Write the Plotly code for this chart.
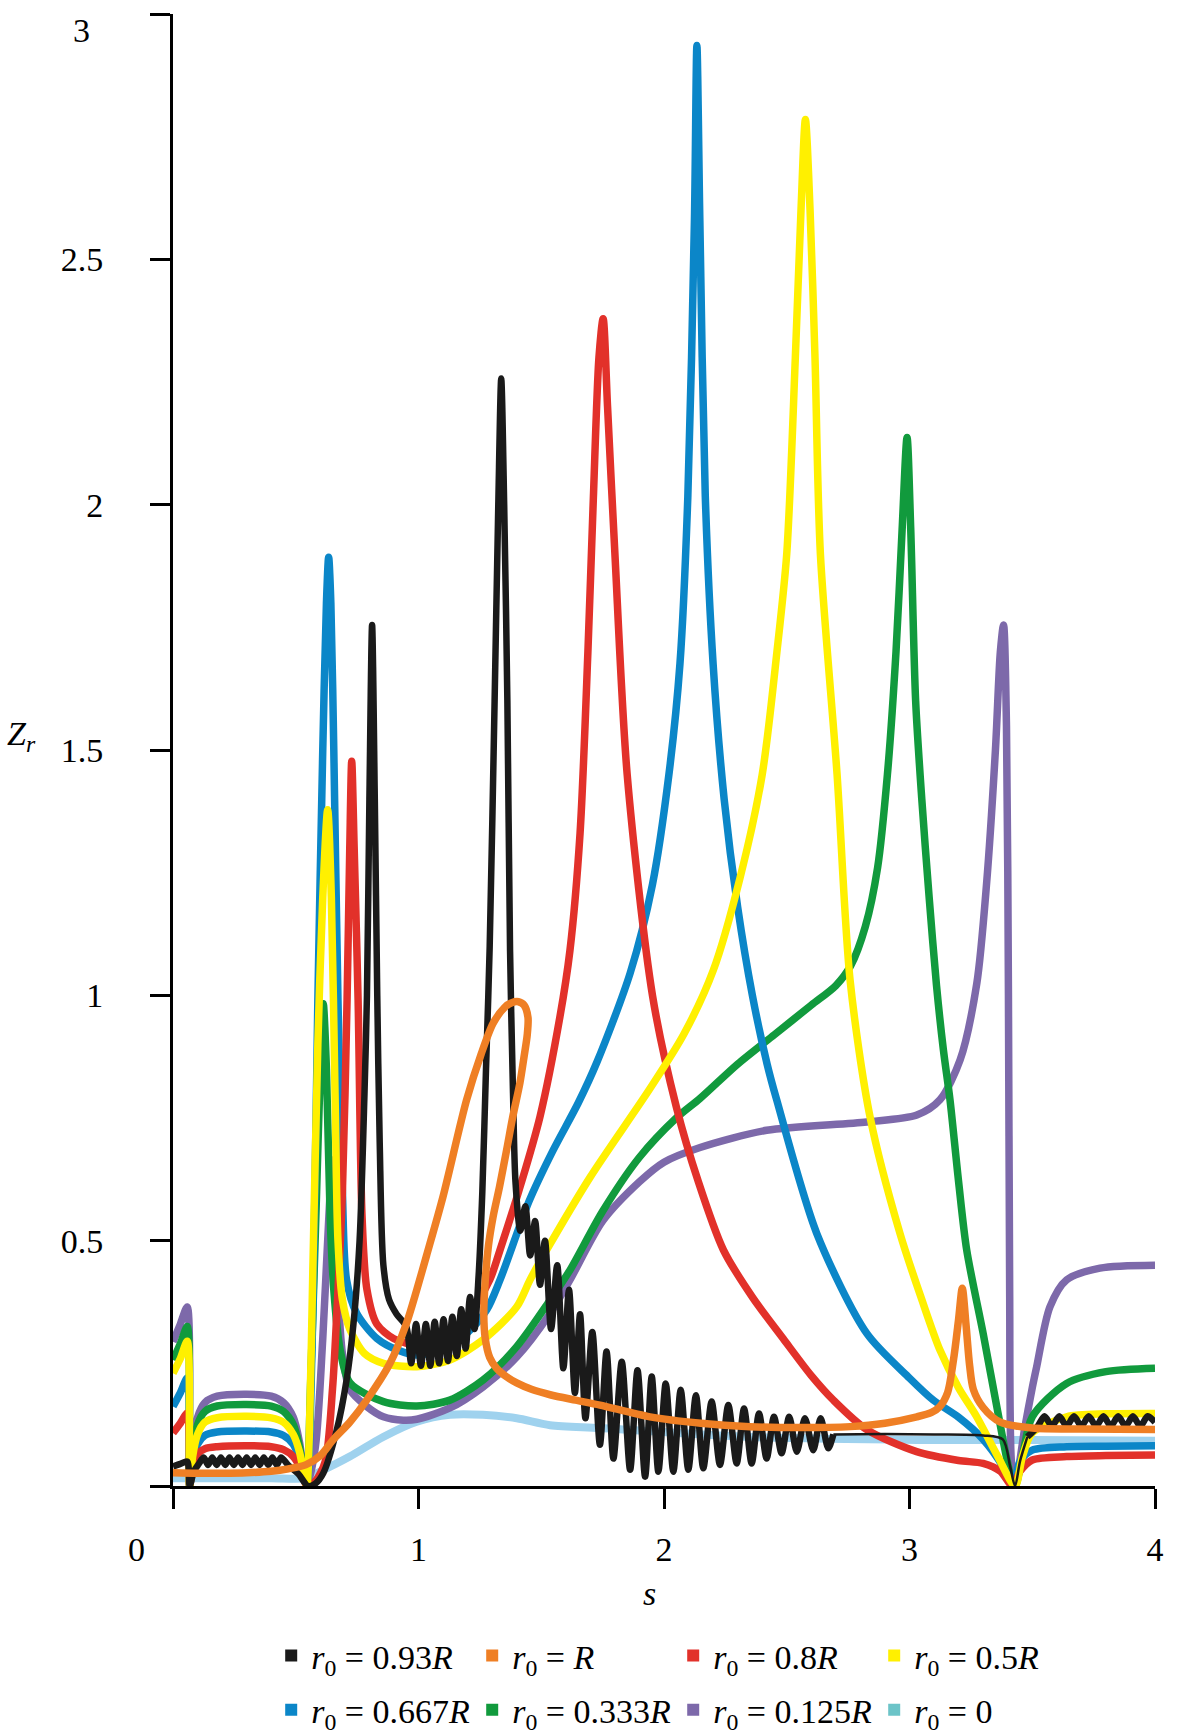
import plotly.graph_objects as go

# ---- r0 = 0.93R (black): main part, thin tail, ripple at the right end ----
black_s = [0, 0.03, 0.058, 0.068, 0.085, 0.105,
           0.125, 0.143, 0.16, 0.178, 0.195, 0.213, 0.23, 0.248, 0.265, 0.283, 0.30, 0.318,
           0.335, 0.353, 0.37, 0.388, 0.405, 0.423, 0.44,
           0.47, 0.51, 0.55, 0.58, 0.612, 0.667, 0.707, 0.735, 0.76, 0.78, 0.79, 0.80, 0.811,
           0.822, 0.832, 0.842, 0.857, 0.88, 0.911, 0.95,
           0.97, 0.99, 1.01, 1.03, 1.048, 1.066, 1.084, 1.102, 1.12, 1.138, 1.156, 1.174,
           1.192, 1.21, 1.228, 1.245,
           1.26, 1.275, 1.29, 1.31, 1.325, 1.337, 1.349, 1.362, 1.373, 1.385, 1.395,
           1.415, 1.435, 1.455, 1.475, 1.495, 1.515, 1.54, 1.565, 1.59, 1.613, 1.637, 1.658,
           1.68, 1.708, 1.739, 1.766, 1.794, 1.828, 1.862, 1.892, 1.923, 1.95, 1.977, 2.007,
           2.038, 2.068, 2.099, 2.13, 2.16, 2.194, 2.228, 2.262, 2.296, 2.326, 2.357, 2.387,
           2.418, 2.448, 2.479, 2.51, 2.541, 2.574, 2.608, 2.638, 2.669, 2.69]
black_z = [0.04, 0.045, 0.05, 0.0, 0.03, 0.045,
           0.058, 0.043, 0.058, 0.043, 0.058, 0.043, 0.058, 0.043, 0.058, 0.043, 0.058, 0.043,
           0.058, 0.043, 0.058, 0.043, 0.058, 0.043, 0.058,
           0.042, 0.025, 0.0, 0.005, 0.026, 0.114, 0.216, 0.33, 0.5, 0.8, 1.0, 1.4, 1.755,
           1.4, 1.0, 0.7, 0.45, 0.38, 0.35, 0.325,
           0.25, 0.33, 0.245, 0.33, 0.245, 0.335, 0.25, 0.34, 0.255, 0.345, 0.265, 0.36,
           0.28, 0.385, 0.32, 0.43,
           0.6, 0.85, 1.1, 1.6, 2.0, 2.257, 2.0, 1.6, 1.09, 0.8, 0.62,
           0.52, 0.57, 0.47, 0.54, 0.41, 0.50, 0.32, 0.45, 0.24, 0.40, 0.19, 0.35,
           0.138, 0.314, 0.084, 0.274, 0.056, 0.253, 0.033, 0.236, 0.019, 0.223, 0.029, 0.209,
           0.029, 0.196, 0.033, 0.185, 0.036, 0.172, 0.043, 0.165, 0.046, 0.158, 0.046, 0.148,
           0.056, 0.141, 0.067, 0.141, 0.07, 0.138, 0.073, 0.138, 0.077, 0.105]

black_tail_s = [2.69, 2.9, 3.1, 3.3, 3.38, 3.41, 3.43, 3.45, 3.48]
black_tail_z = [0.105, 0.106, 0.105, 0.103, 0.095, 0.04, 0.0, 0.05, 0.1]

black_right_s = [3.48, 3.52, 3.55, 3.58, 3.61, 3.64, 3.67, 3.70, 3.73, 3.76, 3.79, 3.82,
                 3.85, 3.88, 3.91, 3.94, 3.97, 4.0]
black_right_z = [0.1, 0.12, 0.142, 0.122, 0.142, 0.122, 0.142, 0.122, 0.142, 0.122, 0.142,
                 0.122, 0.142, 0.122, 0.142, 0.122, 0.142, 0.13]

# ---- r0 = R (orange) ----
orange_s = [0, 0.1, 0.2, 0.3, 0.4, 0.47, 0.54, 0.6, 0.652, 0.72, 0.789, 0.884, 0.95, 0.993,
            1.033, 1.1, 1.196, 1.255, 1.304, 1.35, 1.38, 1.407, 1.43, 1.446, 1.443, 1.43,
            1.413, 1.385, 1.359, 1.33, 1.304, 1.285, 1.272, 1.266, 1.272, 1.29, 1.318, 1.36,
            1.4, 1.46, 1.536, 1.64, 1.739, 1.943, 2.15, 2.35, 2.55, 2.758, 2.9, 3.03, 3.09,
            3.124, 3.155, 3.18, 3.2, 3.215, 3.23, 3.245, 3.26, 3.3, 3.37, 3.5, 3.7, 4.0]
orange_z = [0.027, 0.026, 0.026, 0.027, 0.03, 0.035, 0.043, 0.062, 0.094, 0.13, 0.175, 0.25,
            0.33, 0.4, 0.47, 0.59, 0.787, 0.88, 0.943, 0.975, 0.985, 0.987, 0.98, 0.955, 0.92,
            0.875, 0.821, 0.755, 0.685, 0.61, 0.549, 0.49, 0.42, 0.35, 0.3, 0.262, 0.24, 0.222,
            0.21, 0.197, 0.186, 0.175, 0.165, 0.141, 0.128, 0.121, 0.119, 0.121, 0.128, 0.141,
            0.15, 0.162, 0.19, 0.26, 0.34, 0.403, 0.33, 0.245, 0.197, 0.16, 0.13, 0.118, 0.116,
            0.115]

# ---- r0 = 0.8R (red) ----
red_s = [0, 0.03, 0.058, 0.068, 0.08, 0.1, 0.13, 0.18, 0.3, 0.4, 0.45, 0.49, 0.515, 0.535,
         0.545, 0.58, 0.62, 0.65, 0.667, 0.69, 0.709, 0.72, 0.728, 0.738, 0.754, 0.77, 0.79,
         0.83, 0.9, 1.0, 1.1, 1.2, 1.29, 1.332, 1.42, 1.495, 1.576, 1.617, 1.658, 1.69, 1.712,
         1.735, 1.752, 1.77, 1.80, 1.85, 1.953, 2.05, 2.14, 2.242, 2.36, 2.486, 2.6, 2.69,
         2.826, 3.029, 3.2, 3.30, 3.37, 3.42, 3.45, 3.5, 3.64, 3.8, 4.0]
red_z = [0.108, 0.128, 0.148, 0.0, 0.04, 0.065, 0.076, 0.08, 0.082, 0.08, 0.074, 0.06, 0.04,
         0.012, 0.0, 0.01, 0.05, 0.2, 0.35, 0.6, 0.99, 1.3, 1.477, 1.3, 0.99, 0.55, 0.4, 0.33,
         0.3, 0.287, 0.305, 0.345, 0.42, 0.481, 0.62, 0.753, 0.956, 1.092, 1.33, 1.7, 2.01,
         2.3, 2.379, 2.2, 1.9, 1.45, 1.0, 0.773, 0.62, 0.481, 0.385, 0.3, 0.225, 0.175,
         0.115, 0.07, 0.052, 0.046, 0.03, 0.0, 0.03, 0.053, 0.06, 0.062, 0.063]

# ---- r0 = 0.5R (yellow) ----
yellow_s = [0, 0.03, 0.058, 0.068, 0.08, 0.1, 0.13, 0.18, 0.3, 0.4, 0.45, 0.49, 0.515, 0.535,
            0.545, 0.555, 0.57, 0.59, 0.61, 0.63, 0.645, 0.66, 0.672, 0.69, 0.72, 0.78, 0.857,
            0.993, 1.128, 1.263, 1.4, 1.454, 1.522, 1.7, 1.943, 2.08, 2.2, 2.31, 2.40, 2.46,
            2.50, 2.535, 2.558, 2.576, 2.595, 2.615, 2.637, 2.705, 2.758, 2.839, 2.961, 3.05,
            3.124, 3.2, 3.274, 3.36, 3.43, 3.46, 3.5, 3.64, 3.8, 4.0]
yellow_z = [0.23, 0.26, 0.295, 0.0, 0.06, 0.105, 0.13, 0.139, 0.142, 0.139, 0.13, 0.105, 0.07,
            0.02, 0.0, 0.1, 0.45, 0.9, 1.2, 1.378, 1.2, 0.8, 0.5, 0.38, 0.32, 0.27, 0.25, 0.243,
            0.257, 0.298, 0.365, 0.42, 0.481, 0.63, 0.81, 0.92, 1.05, 1.24, 1.45, 1.7, 1.9, 2.3,
            2.6, 2.785, 2.6, 2.3, 1.9, 1.45, 1.031, 0.753, 0.515, 0.38, 0.277, 0.2, 0.141, 0.06,
            0.0, 0.06, 0.108, 0.141, 0.147, 0.148]

# ---- r0 = 0.667R (blue) ----
blue_s = [0, 0.03, 0.058, 0.068, 0.08, 0.1, 0.13, 0.18, 0.3, 0.4, 0.45, 0.49, 0.515, 0.535,
          0.545, 0.56, 0.575, 0.59, 0.61, 0.625, 0.634, 0.643, 0.655, 0.672, 0.69, 0.707, 0.748,
          0.83, 0.92, 0.993, 1.088, 1.196, 1.278, 1.332, 1.45, 1.547, 1.65, 1.727, 1.862, 1.953,
          2.02, 2.065, 2.097, 2.124, 2.134, 2.146, 2.168, 2.2, 2.245, 2.3, 2.36, 2.42, 2.459,
          2.622, 2.826, 3.0, 3.097, 3.2, 3.30, 3.38, 3.42, 3.45, 3.5, 3.64, 3.8, 4.0]
blue_z = [0.162, 0.19, 0.22, 0.0, 0.05, 0.085, 0.103, 0.11, 0.112, 0.11, 0.103, 0.085, 0.055,
          0.015, 0.0, 0.15, 0.5, 0.99, 1.5, 1.8, 1.893, 1.8, 1.5, 0.99, 0.6, 0.42, 0.352, 0.301,
          0.276, 0.267, 0.277, 0.311, 0.359, 0.42, 0.58, 0.683, 0.78, 0.864, 1.045, 1.226,
          1.45, 1.676, 2.015, 2.58, 2.936, 2.58, 2.02, 1.676, 1.40, 1.18, 1.0, 0.86, 0.787,
          0.515, 0.311, 0.22, 0.175, 0.14, 0.095, 0.04, 0.0, 0.05, 0.073, 0.08, 0.081, 0.082]

# ---- r0 = 0.333R (green) ----
green_s = [0, 0.03, 0.058, 0.068, 0.082, 0.1, 0.13, 0.18, 0.3, 0.4, 0.45, 0.49, 0.515, 0.535,
           0.545, 0.56, 0.585, 0.6, 0.612, 0.625, 0.64, 0.655, 0.68, 0.721, 0.857, 0.993, 1.128,
           1.263, 1.4, 1.536, 1.617, 1.75, 1.9, 2.05, 2.147, 2.3, 2.45, 2.6, 2.7, 2.76, 2.82,
           2.87, 2.91, 2.945, 2.97, 2.99, 3.005, 3.025, 3.05, 3.08, 3.11, 3.138, 3.165, 3.2,
           3.233, 3.30, 3.36, 3.41, 3.43, 3.46, 3.5, 3.64, 3.8, 4.0]
green_z = [0.257, 0.29, 0.325, 0.0, 0.07, 0.125, 0.152, 0.163, 0.166, 0.163, 0.152, 0.125, 0.08,
           0.02, 0.0, 0.2, 0.6, 0.85, 0.983, 0.85, 0.55, 0.4, 0.28, 0.21, 0.172, 0.163, 0.175,
           0.216, 0.284, 0.379, 0.44, 0.56, 0.67, 0.75, 0.79, 0.86, 0.92, 0.98, 1.02, 1.06, 1.14,
           1.26, 1.45, 1.7, 1.95, 2.137, 1.95, 1.6, 1.4, 1.2, 1.02, 0.889, 0.787, 0.62,
           0.481, 0.311, 0.15, 0.025, 0.0, 0.06, 0.141, 0.209, 0.233, 0.24]

# ---- r0 = 0.125R (purple) ----
purple_s = [0, 0.03, 0.058, 0.068, 0.08, 0.1, 0.13, 0.18, 0.3, 0.4, 0.45, 0.49, 0.515, 0.535,
            0.545, 0.58, 0.61, 0.635, 0.65, 0.657, 0.664, 0.672, 0.69, 0.721, 0.789, 0.857,
            0.938, 0.993, 1.128, 1.263, 1.4, 1.536, 1.617, 1.75, 1.9, 2.0, 2.147, 2.418, 2.826,
            3.03, 3.124, 3.206, 3.274, 3.314, 3.35, 3.37, 3.383, 3.395, 3.403, 3.408, 3.415,
            3.43, 3.47, 3.5, 3.518, 3.572, 3.64, 3.776, 4.0]
purple_z = [0.294, 0.33, 0.365, 0.0, 0.08, 0.14, 0.17, 0.183, 0.187, 0.183, 0.17, 0.14, 0.09,
            0.02, 0.0, 0.08, 0.3, 0.55, 0.66, 0.665, 0.55, 0.4, 0.27, 0.196, 0.162, 0.141,
            0.134, 0.136, 0.159, 0.202, 0.263, 0.352, 0.42, 0.54, 0.62, 0.66, 0.69, 0.725,
            0.742, 0.756, 0.787, 0.868, 1.024, 1.228, 1.5, 1.7, 1.755, 1.55, 1.0, 0.4, 0.05,
            0.0, 0.12, 0.2, 0.243, 0.365, 0.42, 0.444, 0.45]

# ---- r0 = 0 (light blue) ----
light_s = [0, 0.2, 0.4, 0.54, 0.585, 0.72, 0.856, 0.993, 1.128, 1.263, 1.4, 1.536, 1.74,
           2.35, 3.03, 3.5, 4.0]
light_z = [0.016, 0.016, 0.016, 0.016, 0.026, 0.06, 0.1, 0.131, 0.145, 0.145, 0.138, 0.124,
           0.118, 0.1, 0.094, 0.094, 0.092]

x_ticks = [0, 1, 2, 3, 4]
x_ticktext = ["", "1", "2", "3", "4"]
y_ticks = [0, 0.5, 1, 1.5, 2, 2.5, 3]
y_ticktext = ["", "0.5", "1", "1.5", "2", "2.5", ""]

C_BLACK = "#1a1a1a"
C_ORANGE = "#ef7f24"
C_RED = "#e2312a"
C_YELLOW = "#fff000"
C_BLUE = "#0b86c8"
C_GREEN = "#119a3d"
C_PURPLE = "#7d69aa"
C_LIGHT = "#9fd2ee"

FONT = "Liberation Serif"
LW = 7.5

fig = go.Figure()


def add_line(xs, ys, color, width):
    fig.add_trace(go.Scatter(
        x=xs, y=ys, mode="lines", showlegend=False, hoverinfo="skip",
        line=dict(color=color, width=width, shape="spline", smoothing=0.8),
    ))


# drawing order: lowest first
add_line(light_s, light_z, C_LIGHT, 8)
add_line(purple_s, purple_z, C_PURPLE, LW)
add_line(green_s, green_z, C_GREEN, LW)
add_line(blue_s, blue_z, C_BLUE, LW)
add_line(red_s, red_z, C_RED, LW)
add_line(yellow_s, yellow_z, C_YELLOW, LW)
add_line(black_s, black_z, C_BLACK, 6.5)
add_line(black_tail_s, black_tail_z, C_BLACK, 2.5)
add_line(black_right_s, black_right_z, C_BLACK, 6.5)
add_line(orange_s, orange_z, C_ORANGE, LW)

# legend entries (two rows)
legend_rows = [
    ("legend", [("<i>r</i><sub>0</sub> = 0.93<i>R</i>", C_BLACK),
                ("<i>r</i><sub>0</sub> = <i>R</i>", C_ORANGE),
                ("<i>r</i><sub>0</sub> = 0.8<i>R</i>", C_RED),
                ("<i>r</i><sub>0</sub> = 0.5<i>R</i>", C_YELLOW)]),
    ("legend2", [("<i>r</i><sub>0</sub> = 0.667<i>R</i>", C_BLUE),
                 ("<i>r</i><sub>0</sub> = 0.333<i>R</i>", C_GREEN),
                 ("<i>r</i><sub>0</sub> = 0.125<i>R</i>", C_PURPLE),
                 ("<i>r</i><sub>0</sub> = 0", "#6cc4c8")]),
]
for leg, items in legend_rows:
    for name, col in items:
        fig.add_trace(go.Scatter(
            x=[None], y=[None], mode="markers", name=name, legend=leg,
            marker=dict(symbol="square", size=9, color=col),
        ))

axis_common = dict(
    showline=True, linecolor="black", linewidth=3,
    ticks="outside", ticklen=20, tickwidth=3, tickcolor="black",
    showgrid=False, zeroline=False,
    tickfont=dict(family=FONT, size=34, color="black"),
)

leg_common = dict(
    orientation="h", xanchor="left", yanchor="middle",
    entrywidth=156, entrywidthmode="pixels",
    font=dict(family=FONT, size=34, color="black"),
    bgcolor="rgba(0,0,0,0)", borderwidth=0, itemsizing="constant",
)

txt_font = dict(family=FONT, size=34, color="black")

fig.update_layout(
    width=1184, height=1735,
    margin=dict(l=173, r=29, t=14, b=249, autoexpand=False),
    font=txt_font,
    paper_bgcolor="white", plot_bgcolor="white",
    xaxis=dict(range=[0, 4], tickvals=x_ticks, ticktext=x_ticktext,
               ticklabelstandoff=11, **axis_common),
    yaxis=dict(range=[0, 3], tickvals=y_ticks, ticktext=y_ticktext,
               ticklabelstandoff=40, **axis_common),
    legend=dict(x=0.1, y=-0.1155, **leg_common),
    legend2=dict(x=0.1, y=-0.1522, **leg_common),
    annotations=[
        dict(text="3", xref="paper", yref="paper", x=-0.0927, y=0.9885,
             showarrow=False, xanchor="center", yanchor="middle", font=txt_font),
        dict(text="0", xref="paper", yref="paper", x=-0.0367, y=-0.0428,
             showarrow=False, xanchor="center", yanchor="middle", font=txt_font),
        dict(text="<i>Z<sub>r</sub></i>", xref="paper", yref="paper", x=-0.1538, y=0.5095,
             showarrow=False, xanchor="center", yanchor="middle", font=txt_font),
        dict(text="<i>s</i>", xref="paper", yref="paper", x=0.4857, y=-0.0727,
             showarrow=False, xanchor="center", yanchor="middle", font=txt_font),
    ],
)

fig.write_html("out.html")
